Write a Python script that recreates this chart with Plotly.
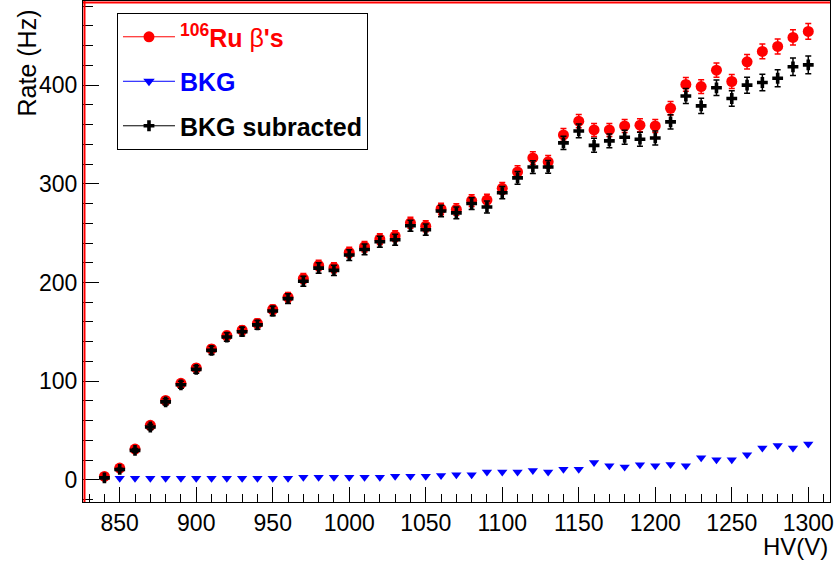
import plotly.graph_objects as go

# ---- data ----
hv = list(range(840, 1301, 10))

ru_rate = [3.4, 11.9, 31.2, 55.2, 80.5, 97.8, 113.4, 132.7, 146.2, 151.6,
           158.5, 172.6, 185.1, 204.0, 217.3, 215.0, 230.5, 236.2, 244.0, 247.0,
           260.5, 257.0, 274.5, 274.0, 283.0, 283.5, 295.4, 312.0, 326.2, 322.3,
           349.6, 363.5, 354.6, 354.6, 358.7, 359.4, 358.7, 376.6, 400.7, 398.6,
           415.2, 403.7, 423.7, 434.2, 439.3, 448.4, 454.5]
ru_err = [0.7, 1.2, 2.0, 2.6, 3.1, 3.4, 3.7, 4.0, 4.2, 4.3,
          4.4, 4.6, 4.8, 5.0, 5.2, 5.1, 5.3, 5.4, 5.5, 5.5,
          5.6, 5.6, 5.8, 5.8, 5.9, 5.9, 6.0, 6.2, 6.3, 6.3,
          6.5, 6.7, 6.6, 6.6, 6.6, 6.6, 6.6, 6.8, 7.0, 7.0,
          7.2, 7.1, 7.3, 7.5, 7.6, 7.8, 8.0]

bkg_rate = [1.4, 1.5, 1.5, 1.5, 1.5, 1.5, 1.5, 1.5, 1.5, 1.5,
            1.5, 1.5, 1.5, 2.7, 2.7, 2.7, 2.7, 2.7, 2.7, 3.7,
            3.7, 3.7, 4.4, 5.0, 5.0, 7.8, 7.8, 7.8, 9.5, 7.8,
            10.8, 10.8, 17.6, 14.2, 12.9, 15.2, 14.2, 15.6, 14.2, 22.3,
            20.3, 20.3, 25.4, 32.2, 34.8, 32.2, 36.2]

sub_rate = [2.0, 10.5, 29.8, 53.5, 79.0, 96.3, 111.9, 131.2, 144.7, 150.1,
            157.0, 171.1, 183.6, 201.3, 214.6, 212.3, 227.8, 233.5, 241.3, 243.3,
            257.5, 253.5, 272.5, 270.5, 280.0, 276.5, 291.0, 306.0, 317.0, 317.1,
            341.5, 353.6, 339.0, 343.5, 347.2, 345.2, 346.5, 362.8, 389.0, 379.0,
            397.3, 386.5, 400.0, 402.7, 407.0, 418.6, 420.6]
sub_err = [0.8, 1.3, 2.0, 2.7, 3.2, 3.5, 3.8, 4.1, 4.3, 4.4,
           4.5, 4.7, 4.9, 5.1, 5.3, 5.2, 5.4, 5.5, 5.6, 5.6,
           5.7, 5.7, 5.9, 5.9, 6.0, 6.1, 6.2, 6.4, 6.5, 6.5,
           6.8, 7.0, 7.1, 7.0, 7.0, 7.1, 7.1, 7.3, 7.6, 7.7,
           7.9, 7.9, 8.1, 8.4, 8.6, 8.8, 9.0]

legend_names = [
    '<span style="color:#ff0000"><b><sup>106</sup>Ru </b>\u03b2<b>\'s</b></span>',
    '<span style="color:#0000ff"><b>BKG</b></span>',
    '<b>BKG subracted</b>',
]
x_title = "HV(V)"
y_title = "Rate (Hz)"

RED = "#ff0000"
BLUE = "#0000ff"
BLACK = "#000000"
FONT = "Liberation Sans, Arial, sans-serif"

fig = go.Figure()

fig.add_trace(go.Scatter(
    x=hv, y=bkg_rate, mode="markers", showlegend=False,
    marker=dict(symbol="triangle-down", size=9, color=BLUE, line=dict(width=0)),
))
fig.add_trace(go.Scatter(
    x=hv, y=ru_rate, mode="markers", showlegend=False,
    marker=dict(symbol="circle", size=11, color=RED, line=dict(width=0)),
    error_y=dict(type="data", array=ru_err, color=RED, thickness=1.5, width=3),
))
fig.add_trace(go.Scatter(
    x=hv, y=sub_rate, mode="markers", showlegend=False,
    marker=dict(symbol="cross", size=9, color=BLACK, line=dict(width=0)),
    error_y=dict(type="data", array=sub_err, color=BLACK, thickness=1.5, width=3),
))

# legend-only entries (line + marker like the original legend)
leg_styles = [
    (RED, "circle", 11),
    (BLUE, "triangle-down", 10),
    (BLACK, "cross", 9),
]
for i, (name, (col, sym, sz)) in enumerate(zip(legend_names, leg_styles)):
    fig.add_trace(go.Scatter(
        x=[None], y=[None], mode="lines+markers", name=name,
        legendgroup=f"g{i}",
        line=dict(color=col, width=1),
        marker=dict(symbol=sym, size=sz, color=col),
    ))

fig.update_layout(
    width=840, height=563,
    margin=dict(l=83, r=10, t=1, b=61),
    paper_bgcolor="white", plot_bgcolor="white",
    font=dict(family=FONT, size=23, color=BLACK),
    showlegend=True,
    legend=dict(
        x=0.0455, y=0.976, xanchor="left", yanchor="top",
        bgcolor="white", bordercolor=BLACK, borderwidth=1,
        font=dict(family=FONT, size=25, color=BLACK),
        itemwidth=52, traceorder="grouped", tracegroupgap=9,
        entrywidth=230, entrywidthmode="pixels",
    ),
    xaxis=dict(
        range=[826.0, 1314.2], showgrid=False, zeroline=False,
        showline=True, linecolor=BLACK, linewidth=1, mirror=True,
        ticks="inside", ticklen=15, tickwidth=1, tickcolor=BLACK,
        tick0=850, dtick=50, tickfont=dict(size=23),
        minor=dict(ticks="inside", ticklen=8, tickwidth=1, tickcolor=BLACK,
                   tick0=840, dtick=10, showgrid=False),
    ),
    yaxis=dict(
        range=[-22.5, 485.3], showgrid=False, zeroline=False,
        showline=True, linecolor=BLACK, linewidth=1, mirror=True,
        ticks="inside", ticklen=16, tickwidth=1, tickcolor=BLACK,
        tick0=0, dtick=100, tickfont=dict(size=23),
        minor=dict(ticks="inside", ticklen=10, tickwidth=1, tickcolor=BLACK,
                   tick0=0, dtick=20, showgrid=False),
    ),
    shapes=[
        dict(type="line", xref="paper", yref="paper", x0=0.002, x1=0.002, y0=0, y1=1,
             line=dict(color=RED, width=2)),
        dict(type="line", xref="paper", yref="paper", x0=0, x1=1, y0=0.997, y1=0.997,
             line=dict(color=RED, width=2)),
    ],
    annotations=[
        dict(text=y_title, textangle=-90, xref="paper", yref="paper",
             x=-0.075, y=0.988, xanchor="center", yanchor="top", showarrow=False,
             font=dict(family=FONT, size=25, color=BLACK)),
        dict(text=x_title, xref="paper", yref="paper",
             x=1.0, y=-0.088, xanchor="right", yanchor="middle", showarrow=False,
             font=dict(family=FONT, size=24, color=BLACK)),
    ],
)

fig.write_html("out.html")
